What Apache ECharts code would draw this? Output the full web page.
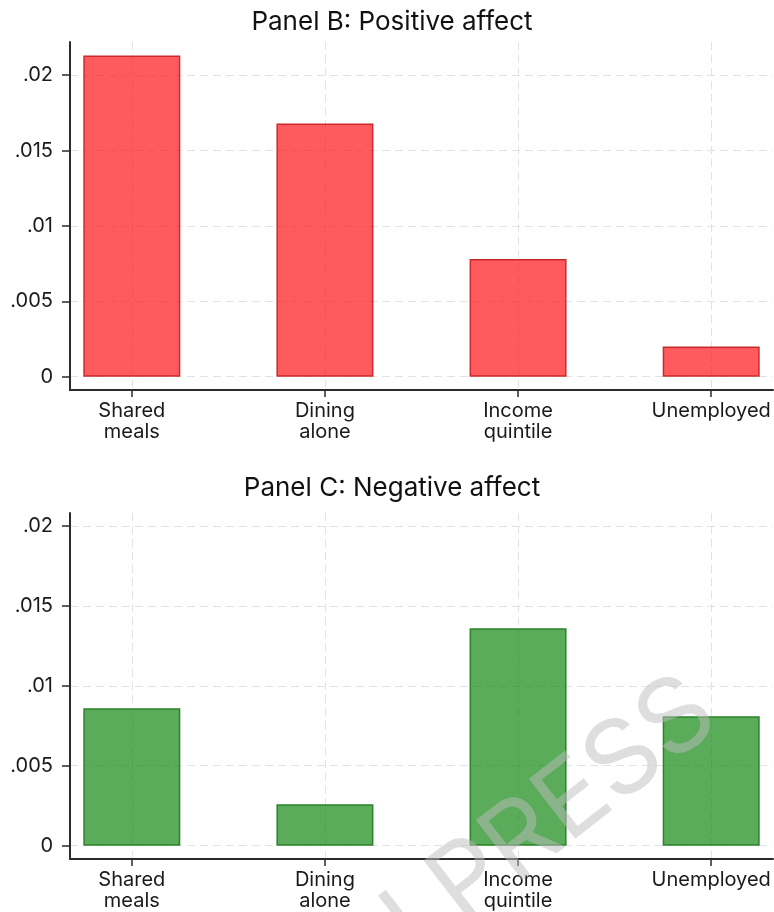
<!DOCTYPE html>
<html>
<head>
<meta charset="utf-8">
<script src="https://cdn.jsdelivr.net/npm/echarts@6/dist/echarts.min.js"></script>
<style>
  html, body { margin: 0; padding: 0; background: #fff; }
  #chart { width: 774px; height: 912px; }
</style>
</head>
<body>
<div id="chart"></div>
<script>
// Categories and estimated coefficients for the two panels
const categories = ['Shared\nmeals', 'Dining\nalone', 'Income\nquintile', 'Unemployed'];
const positiveAffect = [0.0213, 0.0168, 0.0078, 0.0020];
const negativeAffect = [0.0086, 0.0026, 0.0136, 0.0081];
const yTicks = [0, 0.005, 0.01, 0.015, 0.02];
const yTickLabels = ['0', '.005', '.01', '.015', '.02'];
const panelTitles = ['Panel B: Positive affect', 'Panel C: Negative affect'];
const categoryIndex = categories.map((_, i) => i);

const FONT = 'Inter';
const AXIS_COLOR = '#2b2b2b';
const GRID_COLOR = '#e2e2e2';

function xAxisFor(gridIndex) {
  return {
    type: 'value',
    gridIndex,
    min: -0.32,
    max: 3.32,
    axisLine: { show: true, onZero: false, lineStyle: { color: AXIS_COLOR, width: 2 } },
    axisTick: { show: true, length: 7, customValues: categoryIndex, lineStyle: { color: AXIS_COLOR, width: 1.5 } },
    axisLabel: {
      customValues: categoryIndex,
      formatter: v => categories[Math.round(v)],
      margin: 10,
      fontFamily: FONT, fontSize: 20, color: '#1a1a1a', lineHeight: 21
    },
    splitLine: { show: true, lineStyle: { color: GRID_COLOR, type: [8, 5], width: 1 } }
  };
}

function yAxisFor(gridIndex, min, max) {
  return {
    type: 'value',
    gridIndex,
    min, max,
    axisLine: { show: true, onZero: false, lineStyle: { color: AXIS_COLOR, width: 2 } },
    axisTick: { show: true, length: 8, customValues: yTicks, lineStyle: { color: AXIS_COLOR, width: 1.5 } },
    axisLabel: {
      customValues: yTicks,
      formatter: v => yTickLabels[yTicks.findIndex(t => Math.abs(t - v) < 1e-9)],
      margin: 17,
      fontFamily: FONT, fontSize: 20, color: '#1a1a1a'
    },
    splitLine: { show: true, lineStyle: { color: GRID_COLOR, type: [8, 5], width: 1 } }
  };
}

function barSeries(values, idx, fill, border) {
  return {
    type: 'bar',
    xAxisIndex: idx,
    yAxisIndex: idx,
    barWidth: 97,
    data: values.map((v, i) => [i, v]),
    itemStyle: { color: fill, borderColor: border, borderWidth: 1.5 },
    silent: true,
    z: 3
  };
}

const chart = echarts.init(document.getElementById('chart'), null, { renderer: 'canvas' });

chart.setOption({
  backgroundColor: '#ffffff',
  animation: false,
  grid: [
    { left: 70, right: 1, top: 42, height: 348 },
    { left: 70, right: 1, top: 513, height: 346 }
  ],
  xAxis: [xAxisFor(0), xAxisFor(1)],
  yAxis: [
    yAxisFor(0, -0.00088, 0.0222),
    yAxisFor(1, -0.00083, 0.0208)
  ],
  series: [
    barSeries(positiveAffect, 0, 'rgba(255, 20, 25, 0.7)', '#cc2a2a'),
    barSeries(negativeAffect, 1, 'rgba(20, 135, 20, 0.7)', '#2a842a')
  ],
  graphic: [
    {
      type: 'text', x: 392, y: 22, z: 10,
      style: { text: panelTitles[0], font: '26px ' + FONT, fill: '#111', align: 'center', verticalAlign: 'middle' }
    },
    {
      type: 'text', x: 392, y: 488, z: 10,
      style: { text: panelTitles[1], font: '26px ' + FONT, fill: '#111', align: 'center', verticalAlign: 'middle' }
    },
    {
      type: 'text', x: 520, y: 842, rotation: 0.66, z: 20,
      style: { text: 'IN PRESS', font: '104px ' + FONT, fill: 'rgba(190, 190, 190, 0.5)', align: 'center', verticalAlign: 'middle' }
    }
  ]
});
</script>
</body>
</html>
